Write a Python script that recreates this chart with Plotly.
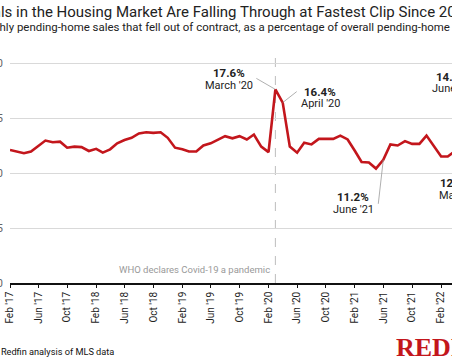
import plotly.graph_objects as go

# ---------------- data ----------------
months = [
    "2017-02-01", "2017-03-01", "2017-04-01", "2017-05-01", "2017-06-01", "2017-07-01",
    "2017-08-01", "2017-09-01", "2017-10-01", "2017-11-01", "2017-12-01", "2018-01-01",
    "2018-02-01", "2018-03-01", "2018-04-01", "2018-05-01", "2018-06-01", "2018-07-01",
    "2018-08-01", "2018-09-01", "2018-10-01", "2018-11-01", "2018-12-01", "2019-01-01",
    "2019-02-01", "2019-03-01", "2019-04-01", "2019-05-01", "2019-06-01", "2019-07-01",
    "2019-08-01", "2019-09-01", "2019-10-01", "2019-11-01", "2019-12-01", "2020-01-01",
    "2020-02-01", "2020-03-01", "2020-04-01", "2020-05-01", "2020-06-01", "2020-07-01",
    "2020-08-01", "2020-09-01", "2020-10-01", "2020-11-01", "2020-12-01", "2021-01-01",
    "2021-02-01", "2021-03-01", "2021-04-01", "2021-05-01", "2021-06-01", "2021-07-01",
    "2021-08-01", "2021-09-01", "2021-10-01", "2021-11-01", "2021-12-01", "2022-01-01",
    "2022-02-01", "2022-03-01", "2022-04-01",
]
fell_through_pct = [
    12.1, 11.95, 11.8, 11.95, 12.45, 12.95,
    12.8, 12.85, 12.3, 12.4, 12.35, 12.0,
    12.2, 11.85, 12.15, 12.7, 13.0, 13.2,
    13.6, 13.7, 13.65, 13.7, 13.2, 12.3,
    12.15, 11.95, 11.95, 12.5, 12.7, 13.0,
    13.35, 13.15, 13.35, 13.05, 13.5, 12.4,
    11.9, 17.6, 16.4, 12.4, 11.85, 12.75,
    12.6, 13.1, 13.1, 13.1, 13.4, 13.05,
    12.0, 11.0, 10.95, 10.4, 11.2, 12.6,
    12.5, 12.9, 12.65, 12.65, 13.4, 12.4,
    11.5, 11.5, 12.0,
]
y_tick_vals = [0, 5, 10, 15, 20]
x_range = ["2017-02-01", "2022-03-19"]

# labelled points (month, caption)
callouts = [
    ("2020-03-01", "March '20"),
    ("2020-04-01", "April '20"),
    ("2021-06-01", "June '21"),
]
# labels for later months that fall past the right edge of this view
edge_labels = [("14.9%", "June '22"), ("12.4%", "May '22")]

title_text = "Deals in the Housing Market Are Falling Through at Fastest Clip Since 2020"
subtitle_text = ("Monthly pending-home sales that fell out of contract, as a percentage of "
                 "overall pending-home sales")
source_text = "<b>Source:</b> Redfin analysis of MLS data"
who_text = "WHO declares Covid-19 a pandemic"

# ---------------- style ----------------
W, H = 452, 360
L, R, T, B = 10, 0, 55, 77
RED = "#c3161c"
FONT = "Roboto"
PLOT_W = W - L - R
PLOT_H = H - T - B


def px(xp):
    return (xp - L) / PLOT_W


def py(yp):
    return (H - B - yp) / PLOT_H


fig = go.Figure()
fig.add_trace(go.Scatter(
    x=months, y=fell_through_pct, mode="lines",
    line=dict(color=RED, width=2.6), hoverinfo="skip", showlegend=False,
))

annotations = []


def text(xp, yp, s, size=11, color="#222", anchor="center", xshift=0, family=FONT, bold=False):
    annotations.append(dict(
        xref="paper", yref="paper", x=px(xp), y=py(yp), text=("<b>%s</b>" % s) if bold else s,
        showarrow=False, xanchor=anchor, yanchor="middle", xshift=xshift,
        font=dict(family=family, size=size, color=color),
    ))


# title / subtitle / source (page is a crop of a wider graphic)
text(0, 12, title_text, size=15.0, color="#222", anchor="left", xshift=-27.5)
text(0, 27, subtitle_text, size=11.45, color="#222", anchor="left", xshift=-29)
text(0, 351, source_text, size=9.2, color="#111", anchor="left", xshift=-35)
text(394, 347, "<b>REDFIN</b>", size=26, color=RED, anchor="left", family="Liberation Sans Narrow")

# WHO note
text(272, 269, who_text, size=9.5, color="#999", anchor="right")

# callout texts
vals = {m: v for m, v in zip(months, fell_through_pct)}
lab_pos = {
    "2020-03-01": (229, 73, 85),
    "2020-04-01": (320, 92, 103),
    "2021-06-01": (353, 197, 209),
}
for m, cap in callouts:
    cx, y1, y2 = lab_pos[m]
    text(cx, y1, "%.1f%%" % vals[m], size=11.5, color="#222", bold=True)
    text(cx, y2, cap, size=11, color="#222")

text(452, 77, edge_labels[0][0], size=11.5, bold=True)
text(452, 88, edge_labels[0][1], size=11)
text(456, 183, edge_labels[1][0], size=11.5, bold=True)
text(458, 195, edge_labels[1][1], size=11)

shapes = [
    dict(type="line", xref="x", yref="paper", x0="2020-03-01", x1="2020-03-01", y0=0, y1=1,
         line=dict(color="#bdbdbd", width=1, dash="dash"), layer="below"),
]
leader_offsets = {
    "2020-03-01": (-19, 11),
    "2020-04-01": (14, 11),
    "2021-06-01": (-5, -44),
}
for m, _ in callouts:
    dx, dy = leader_offsets[m]
    shapes.append(dict(
        type="line", xref="x", yref="y", xsizemode="pixel", ysizemode="pixel",
        xanchor=m, yanchor=vals[m], x0=0, y0=0, x1=dx, y1=dy,
        line=dict(color="#9a9a9a", width=0.8),
    ))

fig.update_layout(
    width=W, height=H, margin=dict(l=L, r=R, t=T, b=B, pad=0, autoexpand=False),
    paper_bgcolor="white", plot_bgcolor="white",
    font=dict(family=FONT, size=10, color="#222"),
    annotations=annotations, shapes=shapes, showlegend=False,
    xaxis=dict(
        type="date", range=x_range, tick0="2017-02-01", dtick="M4", tickformat="%b '%y",
        tickangle=-90, showgrid=False, zeroline=False, automargin=False,
        showline=True, linecolor="#111", linewidth=1.5,
        ticks="outside", ticklen=3, tickcolor="#111", tickwidth=1,
        tickfont=dict(family=FONT, size=10, color="#222"),
    ),
    yaxis=dict(
        range=[0, PLOT_H / 11.0], tickvals=y_tick_vals, ticksuffix="%", automargin=False,
        showgrid=True, gridcolor="#d9d9d9", gridwidth=1, zeroline=False,
        showline=False, ticks="", ticklabelstandoff=6,
        tickfont=dict(family=FONT, size=11, color="#666"),
    ),
)

fig.write_html(
    "out.html",
    config={"displayModeBar": False},
    post_script="document.body.style.margin='0';document.body.style.padding='0';"
                "document.documentElement.style.overflow='hidden';",
)
